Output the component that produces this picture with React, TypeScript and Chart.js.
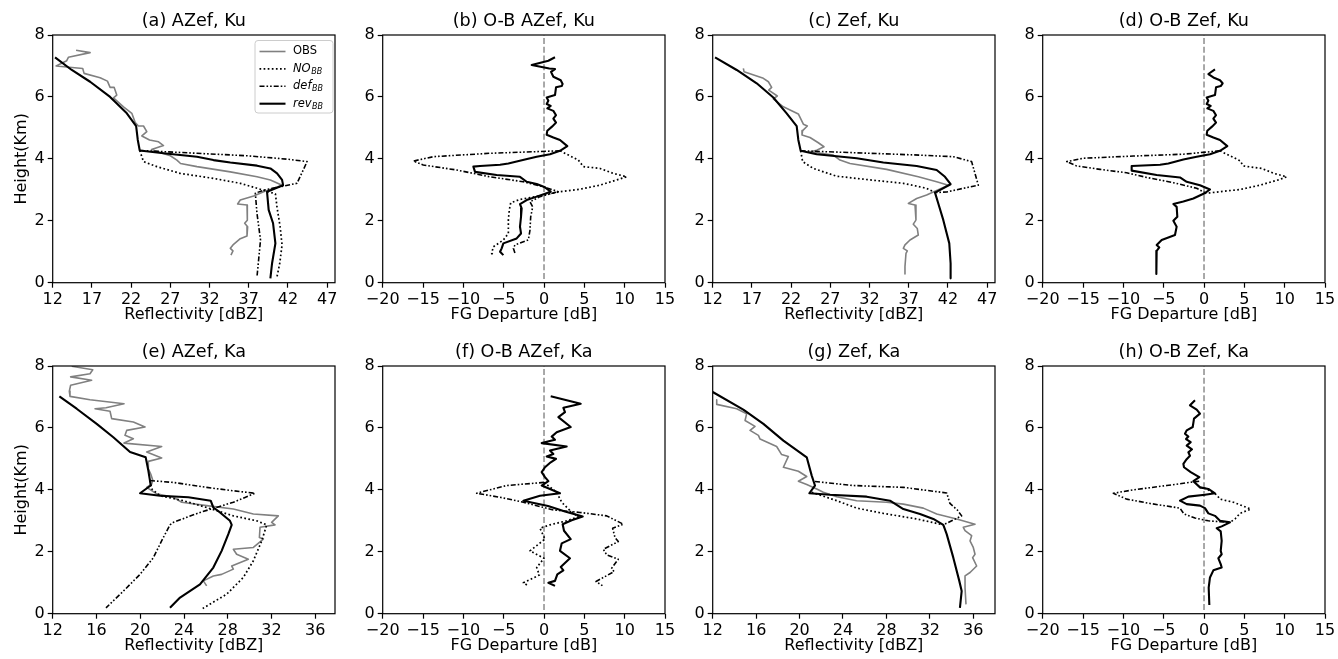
import React, { useEffect, useRef } from 'react';
import { Chart, registerables } from 'chart.js';
Chart.register(...registerables);

type P = [number, number]; // [value, height km]

// ---------- tick labels ----------
const kuRefTicks = [12, 17, 22, 27, 32, 37, 42, 47];
const kaRefTicks = [12, 16, 20, 24, 28, 32, 36];
const depTicks = [-20, -15, -10, -5, 0, 5, 10, 15];
const heightTicks = [0, 2, 4, 6, 8];

// ---------- (a) AZef, Ku ----------
const aObs: P[] = [[14.98,7.51],[16.77,7.43],[14.0,7.28],[13.79,7.17],[12.43,7.0],[15.83,6.92],[16.0,6.76],[18.05,6.62],[18.98,6.51],[19.32,6.31],[19.83,6.31],[20.17,6.06],[19.75,5.97],[21.03,5.68],[22.09,5.47],[22.52,5.17],[22.94,5.06],[23.58,5.06],[24.0,4.88],[23.37,4.74],[24.35,4.61],[25.5,4.55],[26.13,4.43],[24.6,4.3],[26.0,4.18],[27.0,4.1],[27.84,3.96],[28.3,3.85],[30.4,3.75],[34.65,3.58],[38.06,3.42],[39.76,3.32],[41.25,3.15],[38.9,2.94],[37.63,2.8],[35.92,2.67],[35.58,2.54],[36.78,2.51],[36.78,2.24],[36.86,2.02],[36.48,1.92],[36.86,1.81],[36.78,1.51],[35.92,1.42],[34.99,1.22],[34.65,1.11],[34.99,1.03],[34.73,0.89]];
const aNo: P[] = [[23.1,4.27],[23.58,3.91],[25.28,3.75],[28.26,3.53],[32.5,3.37],[35.92,3.21],[38.06,3.05],[40.4,2.87],[40.6,2.45],[41.0,1.81],[41.25,1.22],[40.95,0.62],[40.6,0.19]];
const aDef: P[] = [[23.1,4.27],[30.4,4.18],[36.78,4.1],[41.89,3.99],[44.44,3.91],[43.16,3.21],[41.03,3.1],[38.9,2.99],[37.84,2.89],[38.05,2.24],[38.5,1.38],[38.3,0.84],[38.05,0.19]];
const aRev: P[] = [[12.3,7.28],[14.43,6.87],[16.77,6.49],[19.32,6.0],[21.45,5.47],[22.64,5.06],[22.85,4.61],[23.1,4.27],[26.13,4.18],[30.4,4.07],[32.5,3.96],[34.65,3.88],[38.06,3.78],[39.76,3.69],[40.61,3.53],[41.25,3.32],[41.38,3.15],[39.33,2.94],[39.54,2.35],[40.1,1.92],[40.4,1.27],[39.97,0.62],[39.76,0.14]];

// ---------- (b) O-B AZef, Ku ----------
const bNo: P[] = [[2.0,4.26],[2.81,4.15],[4.26,3.96],[4.88,3.75],[6.94,3.69],[8.6,3.53],[10.25,3.42],[9.01,3.32],[6.94,3.15],[4.46,3.02],[1.98,2.94],[-0.08,2.83],[-2.98,2.69],[-4.13,2.58],[-4.3,2.35],[-4.42,2.02],[-4.42,1.59],[-5.04,1.38],[-6.28,1.16],[-6.49,0.95],[-6.3,0.89]];
const bDef: P[] = [[2.0,4.26],[-6.7,4.18],[-13.73,4.07],[-16.2,3.93],[-14.97,3.8],[-10.83,3.64],[-6.7,3.42],[-2.57,3.26],[-0.09,3.1],[1.77,2.94],[-0.5,2.78],[-1.74,2.61],[-1.4,2.45],[-1.65,2.13],[-1.74,1.7],[-1.94,1.38],[-3.6,1.22],[-3.8,1.11],[-3.6,0.95]];
const bRev: P[] = [[1.36,7.28],[0.54,7.17],[-1.53,7.03],[0.66,6.92],[1.36,6.9],[0.87,6.81],[1.16,6.65],[2.07,6.54],[2.31,6.42],[2.19,6.35],[1.49,6.31],[1.36,6.06],[0.33,5.98],[0.54,5.88],[0.33,5.77],[0.83,5.71],[0.41,5.63],[1.16,5.55],[1.49,5.41],[1.16,5.3],[1.49,5.17],[0.99,5.04],[0.41,4.91],[0.33,4.78],[1.16,4.69],[1.98,4.61],[2.89,4.41],[1.98,4.26],[0.74,4.15],[-0.91,4.07],[-2.36,3.98],[-4.42,3.85],[-5.45,3.81],[-7.93,3.77],[-8.76,3.75],[-8.55,3.58],[-5.87,3.48],[-2.98,3.42],[-2.15,3.26],[-0.91,3.19],[0.12,3.08],[0.83,2.94],[-0.91,2.78],[-2.15,2.67],[-2.98,2.54],[-2.77,2.4],[-2.85,2.13],[-2.98,1.81],[-2.85,1.59],[-3.39,1.43],[-5.04,1.27],[-5.25,1.11],[-5.45,1.0],[-5.04,0.89]];

// ---------- (c) Zef, Ku ----------
const cObs: P[] = [[15.91,6.92],[16.0,6.81],[18.46,6.6],[19.1,6.49],[19.52,6.31],[19.14,6.22],[20.24,6.03],[19.73,5.94],[21.01,5.68],[22.92,5.45],[23.56,5.12],[24.07,5.06],[23.47,4.91],[23.39,4.77],[24.41,4.69],[25.47,4.52],[26.19,4.39],[25.26,4.28],[24.41,4.23],[27.38,4.12],[28.23,3.96],[29.51,3.85],[34.18,3.66],[38.22,3.42],[40.56,3.26],[42.05,3.15],[39.28,2.83],[38.01,2.72],[36.95,2.56],[37.8,2.51],[37.92,2.02],[37.58,1.89],[38.09,1.75],[38.22,1.54],[37.16,1.38],[36.52,1.22],[36.31,1.11],[36.82,1.03],[36.65,0.95],[36.52,0.52],[36.52,0.28]];
const cNo: P[] = [[23.22,4.26],[23.47,3.91],[24.83,3.69],[27.81,3.44],[32.06,3.32],[36.31,3.21],[39.28,3.05],[40.35,2.91]];
const cDef: P[] = [[23.22,4.26],[32.06,4.18],[38.43,4.12],[42.68,4.07],[45.02,3.91],[45.87,3.15],[43.96,3.05],[41.83,2.93],[40.35,2.91]];
const cRev: P[] = [[12.3,7.28],[15.06,6.87],[17.61,6.44],[19.73,5.98],[21.43,5.47],[22.71,5.06],[22.92,4.61],[23.22,4.26],[25.26,4.15],[30.36,4.02],[33.76,3.88],[38.01,3.77],[40.56,3.64],[41.62,3.42],[42.34,3.18],[40.35,2.91],[40.77,2.56],[41.41,2.02],[42.17,1.27],[42.34,0.62],[42.34,0.14]];

// ---------- (d) O-B Zef, Ku ----------
const dNo: P[] = [[1.98,4.26],[2.81,4.15],[4.46,3.94],[4.88,3.77],[7.15,3.69],[8.68,3.53],[10.25,3.42],[9.21,3.32],[6.94,3.15],[4.46,3.01],[1.98,2.94],[0,2.88]];
const dDef: P[] = [[1.98,4.26],[-2.56,4.15],[-8.76,4.09],[-14.96,4.02],[-17.02,3.91],[-15.79,3.77],[-12.89,3.66],[-9.59,3.55],[-7.11,3.4],[-3.8,3.23],[-0.91,3.05],[0.12,2.91]];
const dRev: P[] = [[1.36,6.89],[0.54,6.74],[1.16,6.63],[1.98,6.54],[2.31,6.44],[2.07,6.35],[1.49,6.31],[1.36,6.06],[0.33,5.98],[0.54,5.88],[0.33,5.77],[0.83,5.71],[0.41,5.63],[1.16,5.55],[1.49,5.41],[1.16,5.3],[1.49,5.17],[0.99,5.04],[0.41,4.91],[0.33,4.78],[1.16,4.69],[1.98,4.61],[2.89,4.41],[1.98,4.26],[0.74,4.15],[-0.91,4.07],[-2.56,3.98],[-4.42,3.85],[-5.45,3.81],[-8.97,3.77],[-8.97,3.62],[-5.87,3.48],[-2.98,3.4],[-2.15,3.26],[-0.5,3.15],[0.74,3.01],[0.0,2.88],[-1.32,2.72],[-2.56,2.62],[-3.8,2.54],[-3.39,2.45],[-3.31,2.13],[-3.8,2.0],[-3.39,1.81],[-3.6,1.54],[-5.25,1.38],[-5.87,1.22],[-5.54,1.14],[-5.87,1.03],[-5.87,0.52],[-5.95,0.28]];

// ---------- (e) AZef, Ka ----------
const eObs: P[] = [[13.74,7.99],[15.66,7.88],[15.41,7.75],[13.64,7.65],[15.56,7.54],[13.64,7.38],[13.52,7.19],[13.58,7.02],[15.41,6.91],[18.52,6.78],[16.87,6.65],[15.87,6.62],[17.24,6.54],[17.39,6.3],[19.37,6.19],[20.44,6.03],[18.76,5.92],[18.61,5.76],[19.37,5.65],[18.52,5.51],[21.96,5.4],[20.59,5.22],[21.96,5.03],[20.74,4.92],[20.74,4.68],[20.96,4.51],[21.14,4.32],[21.05,4.19],[20.59,4.08],[21.5,3.87],[23.03,3.76],[23.79,3.6],[26.07,3.49],[28.51,3.38],[30.34,3.22],[32.62,3.16],[32.01,2.95],[32.32,2.87],[30.95,2.79],[30.89,2.46],[31.25,2.41],[30.34,2.14],[28.51,2.08],[28.81,1.92],[29.88,1.76],[28.36,1.54],[28.51,1.44],[27.44,1.27],[26.68,1.22],[25.77,1.06],[26.07,0.9]];
const eNo: P[] = [[20.89,4.3],[21.05,4.03],[21.81,3.81],[23.94,3.65],[26.07,3.43],[28.51,3.16],[30.64,3.0],[31.56,2.87],[31.1,2.35],[30.34,1.71],[29.42,1.17],[27.9,0.63],[25.71,0.17]];
const eDef: P[] = [[20.89,4.3],[23.03,4.24],[26.07,4.08],[28.51,3.97],[30.49,3.89],[28.51,3.6],[25.46,3.27],[23.03,2.95],[22.72,2.87],[22.11,2.46],[21.2,1.81],[19.98,1.27],[18.46,0.73],[16.87,0.19]];
const eRev: P[] = [[12.61,7.02],[14.19,6.62],[16.02,6.13],[17.54,5.7],[19.07,5.22],[20.5,5.05],[20.74,4.62],[20.89,4.3],[20.96,4.14],[19.98,3.89],[21.81,3.81],[24.4,3.76],[26.44,3.65],[26.68,3.43],[27.29,3.27],[28.2,3.0],[28.36,2.87],[28.05,2.57],[27.44,2.03],[26.68,1.49],[25.46,0.95],[23.64,0.52],[22.72,0.19]];

// ---------- (f) O-B AZef, Ka ----------
const fNo: P[] = [[0,4.24],[1.57,3.92],[2.19,3.6],[3.22,3.33],[4.26,3.13],[2.81,3.0],[0.74,2.87],[-0.5,2.76],[0.12,2.41],[-1.74,2.03],[0,1.79],[-0.91,1.49],[-0.58,1.25],[-2.56,1.0],[-1.94,0.9]];
const fDef: P[] = [[0,4.24],[-4.63,4.14],[-8.35,3.89],[-5.45,3.76],[-2.56,3.6],[1.16,3.35],[4.46,3.27],[7.77,3.16],[9.83,2.89],[8.51,2.76],[8.8,2.46],[9.21,2.33],[7.36,2.08],[7.77,1.9],[9.21,1.76],[8.39,1.47],[8.68,1.36],[6.45,1.04],[7.27,0.9]];
const fRev: P[] = [[0.83,7.02],[4.55,6.78],[2.4,6.65],[2.6,6.51],[1.78,6.35],[3.31,6.03],[1.57,5.86],[0.95,5.72],[1.36,5.62],[-0.29,5.51],[2.81,5.4],[0.74,5.27],[1.16,5.16],[0.33,5.08],[1.49,5.0],[0.83,4.89],[0.12,4.73],[-0.29,4.57],[0.12,4.41],[0.54,4.28],[-0.29,4.14],[1.98,3.89],[-0.5,3.81],[-2.56,3.65],[0.5,3.48],[2.6,3.3],[4.8,3.14],[3.43,3.02],[2.31,2.89],[2.48,2.68],[3.31,2.41],[2.19,2.27],[1.98,2.03],[3.22,1.79],[2.07,1.51],[2.4,1.4],[1.65,1.27],[1.36,1.06],[0.54,1.0],[1.36,0.9]];

// ---------- (g) Zef, Ka ----------
const gObs: P[] = [[12.37,6.91],[12.37,6.76],[14.21,6.62],[15.13,6.46],[14.98,6.24],[15.9,6.05],[15.44,5.92],[16.21,5.76],[16.36,5.64],[17.89,5.4],[18.35,5.14],[18.97,5.08],[18.51,4.73],[19.89,4.6],[20.66,4.43],[19.89,4.28],[20.66,4.17],[21.58,4.03],[22.19,3.92],[23.42,3.78],[25.26,3.65],[28.02,3.6],[29.56,3.54],[31.4,3.41],[32.63,3.22],[34.47,3.06],[36.16,2.89],[35.08,2.79],[35.24,2.68],[35.85,2.52],[35.7,2.35],[36.0,2.14],[36.16,1.92],[35.94,1.81],[36.31,1.54],[35.7,1.33],[35.24,1.22],[35.24,0.84],[35.33,0.3]];
const gNo: P[] = [[21.12,3.92],[23.42,3.65],[25.26,3.41],[27.72,3.24],[30.78,3.06],[33.24,2.87]];
const gDef: P[] = [[21.42,4.27],[24.95,4.14],[29.56,4.08],[33.55,3.9],[33.85,3.56],[34.53,3.35],[34.93,3.16],[34.01,3.0],[33.24,2.87]];
const gRev: P[] = [[12.0,7.16],[14.82,6.59],[16.67,6.13],[18.51,5.59],[20.66,5.05],[21.12,4.46],[21.42,4.14],[20.9,3.89],[22.8,3.84],[26.18,3.78],[28.33,3.65],[29.56,3.38],[31.09,3.22],[32.32,3.06],[33.24,2.87],[33.55,2.57],[34.16,1.81],[34.71,1.06],[34.93,0.73],[34.77,0.19]];

// ---------- (h) O-B Zef, Ka ----------
const hNo: P[] = [[-0.5,4.08],[0.33,4.03],[1.57,3.84],[1.98,3.7],[3.64,3.6],[5.79,3.38],[4.46,3.24],[3.84,3.06],[3.22,2.95]];
const hDef: P[] = [[-0.6,4.28],[-4.63,4.14],[-8.76,4.0],[-11.24,3.89],[-9.59,3.7],[-6.69,3.56],[-2.98,3.41],[-2.48,3.22],[-1.12,3.09],[0.54,3.0],[3.22,2.95]];
const hRev: P[] = [[-1.12,6.89],[-1.74,6.73],[-0.91,6.59],[-0.5,6.46],[-1.24,6.3],[-1.4,6.03],[-2.15,5.92],[-2.36,5.81],[-1.94,5.72],[-2.23,5.64],[-1.65,5.54],[-2.15,5.43],[-1.49,5.31],[-1.94,5.21],[-1.74,5.1],[-2.15,4.99],[-2.56,4.84],[-2.48,4.73],[-1.65,4.57],[-0.91,4.46],[-0.58,4.41],[-1.32,4.28],[-0.5,4.08],[0.54,4.03],[1.36,3.89],[0.12,3.84],[-1.94,3.78],[-2.98,3.65],[-2.15,3.54],[-0.5,3.49],[0.12,3.41],[0.54,3.24],[1.36,3.16],[1.98,3.0],[3.22,2.95],[2.19,2.82],[1.57,2.76],[2.07,2.66],[2.19,2.35],[2.07,2.03],[2.19,1.92],[1.78,1.79],[2.07,1.6],[2.19,1.49],[1.16,1.4],[0.74,1.17],[0.58,0.84],[0.66,0.28]];

// zero reference line in departure panels
const zeroLine: P[] = [[0, 0.12], [0, 8]];

// ---------- styles ----------
const FONT = "'DejaVu Sans', sans-serif";
type Sty = { color: string; width: number; dash: number[] };
const STY: Record<string, Sty> = {
  obs: { color: '#808080', width: 1.6, dash: [] },
  no: { color: '#000000', width: 1.7, dash: [1.7, 2.4] },
  def: { color: '#000000', width: 1.6, dash: [5, 2, 1.6, 2, 1.6, 2] },
  rev: { color: '#000000', width: 2.1, dash: [] },
  zero: { color: '#8c8c8c', width: 1.5, dash: [6, 2.7] },
};

type Series = { name: string; pts: P[]; sty: Sty };
type Spec = {
  title: string;
  series: Series[];
  xMin: number;
  xMax: number;
  xTicks: number[];
  xTitle: string;
  yTitle?: string;
  legend?: boolean;
  left: number;
  top: number;
};

const REF = 'Reflectivity [dBZ]';
const DEP = 'FG Departure [dB]';
const HT = 'Height(Km)';
const colL = [0, 330, 660, 990];
const rowT = [0, 330.7];

const model = (no: P[], def: P[], rev: P[]): Series[] => [
  { name: 'rev', pts: rev, sty: STY.rev },
  { name: 'def', pts: def, sty: STY.def },
  { name: 'no', pts: no, sty: STY.no },
];

const specs: Spec[] = [
  { title: '(a) AZef, Ku', series: [...model(aNo, aDef, aRev), { name: 'obs', pts: aObs, sty: STY.obs }], xMin: 12, xMax: 48, xTicks: kuRefTicks, xTitle: REF, yTitle: HT, legend: true, left: colL[0], top: rowT[0] },
  { title: '(b) O-B AZef, Ku', series: [...model(bNo, bDef, bRev), { name: 'zero', pts: zeroLine, sty: STY.zero }], xMin: -20, xMax: 15, xTicks: depTicks, xTitle: DEP, left: colL[1], top: rowT[0] },
  { title: '(c) Zef, Ku', series: [...model(cNo, cDef, cRev), { name: 'obs', pts: cObs, sty: STY.obs }], xMin: 12, xMax: 48, xTicks: kuRefTicks, xTitle: REF, left: colL[2], top: rowT[0] },
  { title: '(d) O-B Zef, Ku', series: [...model(dNo, dDef, dRev), { name: 'zero', pts: zeroLine, sty: STY.zero }], xMin: -20, xMax: 15, xTicks: depTicks, xTitle: DEP, left: colL[3], top: rowT[0] },
  { title: '(e) AZef, Ka', series: [...model(eNo, eDef, eRev), { name: 'obs', pts: eObs, sty: STY.obs }], xMin: 12, xMax: 37.8, xTicks: kaRefTicks, xTitle: REF, yTitle: HT, left: colL[0], top: rowT[1] },
  { title: '(f) O-B AZef, Ka', series: [...model(fNo, fDef, fRev), { name: 'zero', pts: zeroLine, sty: STY.zero }], xMin: -20, xMax: 15, xTicks: depTicks, xTitle: DEP, left: colL[1], top: rowT[1] },
  { title: '(g) Zef, Ka', series: [...model(gNo, gDef, gRev), { name: 'obs', pts: gObs, sty: STY.obs }], xMin: 12, xMax: 38, xTicks: kaRefTicks, xTitle: REF, left: colL[2], top: rowT[1] },
  { title: '(h) O-B Zef, Ka', series: [...model(hNo, hDef, hRev), { name: 'zero', pts: zeroLine, sty: STY.zero }], xMin: -20, xMax: 15, xTicks: depTicks, xTitle: DEP, left: colL[3], top: rowT[1] },
];

const fmt = (v: number) => (v < 0 ? '\u2212' + Math.abs(v) : String(v));

const CW = 348;
const CH = 329;

function drawLegend(ctx: CanvasRenderingContext2D, a: { left: number; right: number; top: number; bottom: number }) {
  const w = 78, h = 72.5;
  const x0 = a.right - 2 - w;
  const y0 = a.top + 5.5;
  ctx.save();
  ctx.beginPath();
  (ctx as any).roundRect(x0, y0, w, h, 3);
  ctx.fillStyle = 'rgba(255,255,255,0.85)';
  ctx.fill();
  ctx.strokeStyle = '#cccccc';
  ctx.lineWidth = 1;
  ctx.stroke();
  const items: { sty: Sty; main: string; sub: string; italic: boolean }[] = [
    { sty: STY.obs, main: 'OBS', sub: '', italic: false },
    { sty: STY.no, main: 'NO', sub: 'BB', italic: true },
    { sty: STY.def, main: 'def', sub: 'BB', italic: true },
    { sty: STY.rev, main: 'rev', sub: 'BB', italic: true },
  ];
  items.forEach((it, i) => {
    const y = y0 + 11 + i * 17.4;
    ctx.beginPath();
    ctx.setLineDash(it.sty.dash);
    ctx.strokeStyle = it.sty.color;
    ctx.lineWidth = it.sty.width;
    ctx.moveTo(x0 + 4.5, y);
    ctx.lineTo(x0 + 30.5, y);
    ctx.stroke();
    ctx.setLineDash([]);
    ctx.fillStyle = '#000';
    ctx.textAlign = 'left';
    ctx.textBaseline = 'middle';
    ctx.font = `${it.italic ? 'italic ' : ''}11.5px ${FONT}`;
    const tx = x0 + 38;
    ctx.fillText(it.main, tx, y);
    if (it.sub) {
      const mw = ctx.measureText(it.main).width;
      ctx.font = `italic 8px ${FONT}`;
      ctx.fillText(it.sub, tx + mw + 0.5, y + 3);
    }
  });
  ctx.restore();
}

function Panel({ spec }: { spec: Spec }) {
  const ref = useRef<HTMLCanvasElement>(null);
  useEffect(() => {
    const canvas = ref.current!;
    const framePlugin = {
      id: 'frame' + spec.title,
      afterDraw(chart: any) {
        const { ctx, chartArea: a } = chart;
        ctx.save();
        ctx.strokeStyle = '#000';
        ctx.lineWidth = 1.2;
        ctx.setLineDash([]);
        ctx.strokeRect(a.left, a.top, a.right - a.left, a.bottom - a.top);
        ctx.fillStyle = '#000';
        ctx.font = `17.6px ${FONT}`;
        ctx.textAlign = 'center';
        ctx.textBaseline = 'middle';
        ctx.fillText(spec.title, (a.left + a.right) / 2, a.top - 14);
        ctx.restore();
        if (spec.legend) drawLegend(ctx, a);
      },
    };
    const tickFont = { family: FONT, size: 16 };
    const chart = new Chart(canvas, {
      type: 'scatter',
      data: {
        datasets: spec.series.map((s) => ({
          label: s.name,
          data: s.pts.map(([x, y]) => ({ x, y })),
          showLine: true,
          pointRadius: 0,
          pointHoverRadius: 0,
          fill: false,
          tension: 0,
          borderColor: s.sty.color,
          backgroundColor: s.sty.color,
          borderWidth: s.sty.width,
          borderDash: s.sty.dash,
          borderCapStyle: 'butt',
          borderJoinStyle: 'round',
        })),
      },
      options: {
        responsive: false,
        animation: false,
        events: [],
        layout: { padding: { top: 35, right: 13, left: 0, bottom: 0 } },
        plugins: {
          legend: { display: false },
          tooltip: { enabled: false },
          title: { display: false },
        },
        scales: {
          x: {
            type: 'linear',
            position: 'bottom',
            min: spec.xMin,
            max: spec.xMax,
            afterBuildTicks: (s: any) => {
              s.ticks = spec.xTicks.map((v) => ({ value: v }));
            },
            afterFit: (s: any) => {
              s.height = CH - 35 - 247.7;
              s.paddingLeft = 0;
              s.paddingRight = 0;
            },
            ticks: {
              callback: (v: any) => fmt(Number(v)),
              font: tickFont,
              color: '#000',
              padding: 3,
              maxRotation: 0,
              minRotation: 0,
              autoSkip: false,
            },
            grid: { drawOnChartArea: false, drawTicks: true, tickLength: 5, tickColor: '#000', tickWidth: 1.2 },
            border: { display: false },
            title: { display: true, text: spec.xTitle, font: { family: FONT, size: 16 }, color: '#000', padding: { top: 0, bottom: 4.5 } },
          },
          y: {
            type: 'linear',
            position: 'left',
            min: 0,
            max: 8,
            afterBuildTicks: (s: any) => {
              s.ticks = heightTicks.map((v) => ({ value: v }));
            },
            afterFit: (s: any) => {
              s.width = 52.7;
              s.paddingTop = 0;
              s.paddingBottom = 0;
            },
            ticks: { font: tickFont, color: '#000', padding: 3, callback: (v: any) => fmt(Number(v)) },
            grid: { drawOnChartArea: false, drawTicks: true, tickLength: 5, tickColor: '#000', tickWidth: 1.2 },
            border: { display: false },
            title: { display: !!spec.yTitle, text: spec.yTitle || '', font: { family: FONT, size: 16 }, color: '#000', padding: { top: 12.1, bottom: 0 } },
          },
        },
      } as any,
      plugins: [framePlugin],
    });
    return () => chart.destroy();
  }, [spec]);
  return (
    <canvas
      ref={ref}
      width={CW}
      height={CH}
      style={{ position: 'absolute', left: spec.left, top: spec.top, width: CW, height: CH }}
    />
  );
}

export default function App() {
  return (
    <div style={{ position: 'absolute', left: 0, top: 0, width: 1338, height: 659, background: '#fff', overflow: 'hidden' }}>
      {specs.map((s) => (
        <Panel key={s.title} spec={s} />
      ))}
    </div>
  );
}
